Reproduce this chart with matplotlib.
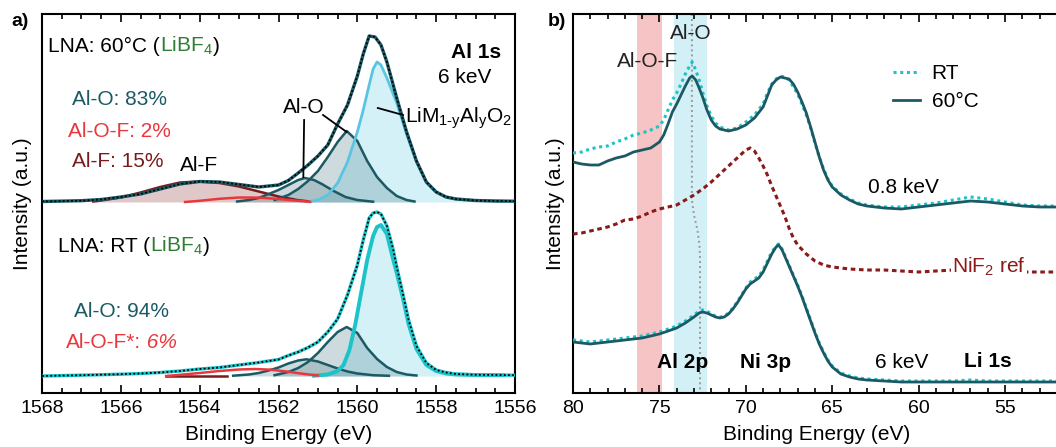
import numpy as np
import matplotlib
matplotlib.use("Agg")
import matplotlib.pyplot as plt
import matplotlib.transforms as mtransforms
from matplotlib.ticker import MultipleLocator

plt.rcParams['font.family'] = ['Liberation Sans', 'DejaVu Sans']
plt.rcParams['mathtext.fontset'] = 'custom'
plt.rcParams['mathtext.rm'] = 'Liberation Sans'
plt.rcParams['mathtext.it'] = 'Liberation Sans:italic'
plt.rcParams['mathtext.bf'] = 'Liberation Sans:bold'

# ---------------- Panel a: Al 1s (6 keV) ----------------
# 60 °C sample: measured envelope / fit
E_env_60 = [1568.0, 1567.0, 1566.5, 1566.0, 1565.5, 1565.0, 1564.5, 1564.0, 1563.5, 1563.0,
            1562.5, 1562.0, 1561.75, 1561.5, 1561.25, 1561.0, 1560.75, 1560.5, 1560.25, 1560.0,
            1559.85, 1559.7, 1559.55, 1559.4, 1559.25, 1559.0, 1558.75, 1558.5, 1558.25, 1558.0,
            1557.75, 1557.5, 1557.0, 1556.5, 1556.0]
I_env_60 = [0.5, 1.3, 2.5, 5, 8, 13, 18, 20.5, 20, 17.5,
            15, 17, 21.5, 29, 37, 46, 57, 78, 97, 126,
            148, 166, 165, 157, 140, 104, 70, 41, 20, 10,
            5, 3, 1.5, 1, 0.8]
E_lim_60 = [1561.2, 1561.0, 1560.75, 1560.5, 1560.25, 1560.0, 1559.85, 1559.7, 1559.6, 1559.5,
            1559.4, 1559.25, 1559.0, 1558.75, 1558.5, 1558.25, 1558.0, 1557.75, 1557.5, 1557.0, 1556.3]
I_lim_60 = [0.5, 2, 7, 19, 40, 70, 92, 117, 133, 140,
            137, 124, 99, 68, 40, 20, 10, 5, 3, 1.5, 0.8]
E_alo1_60 = [1562.1, 1561.75, 1561.5, 1561.25, 1561.0, 1560.75, 1560.5, 1560.27, 1560.0, 1559.75,
             1559.5, 1559.25, 1559.0, 1558.75, 1558.55]
I_alo1_60 = [2, 7, 13, 21, 31, 45, 60, 71, 61, 41, 25, 14, 6, 2, 0.5]
E_alo2_60 = [1563.05, 1562.75, 1562.5, 1562.25, 1562.0, 1561.75, 1561.5, 1561.33, 1561.1, 1560.9,
             1560.6, 1560.3, 1560.0, 1559.6]
I_alo2_60 = [0.5, 2, 4, 8, 12, 17, 22, 24, 22, 18, 11, 5, 2, 0.3]
E_alf_60 = [1566.7, 1566.5, 1566.0, 1565.5, 1565.0, 1564.5, 1564.05, 1563.5, 1563.0, 1562.5,
            1562.0, 1561.5, 1561.2]
I_alf_60 = [0.5, 1.5, 4.5, 9.5, 15, 19.5, 20.5, 19, 15.5, 10.5, 5.5, 1.8, 0.5]
E_alof_60 = [1564.37, 1564.0, 1563.5, 1563.0, 1562.5, 1562.0, 1561.5, 1561.2]
I_alof_60 = [0, 1.2, 3.2, 4.5, 4.4, 3, 1.2, 0.2]

# RT sample
E_env_rt = [1568.0, 1567.0, 1566.0, 1565.5, 1565.0, 1564.5, 1564.0, 1563.5, 1563.0, 1562.5,
            1562.0, 1561.75, 1561.5, 1561.25, 1561.0, 1560.75, 1560.5, 1560.25, 1560.0, 1559.85,
            1559.7, 1559.6, 1559.5, 1559.4, 1559.25, 1559.1, 1559.0, 1558.85, 1558.7, 1558.5,
            1558.25, 1558.0, 1557.75, 1557.5, 1557.0, 1556.5, 1556.0]
I_env_rt = [0, 0.8, 1.8, 2.5, 3.5, 5, 7, 8.5, 11, 13.5,
            16.5, 20.5, 24, 28.5, 34, 44, 57, 81, 111, 136,
            158, 163, 164, 162, 150, 128, 109, 83, 56, 30,
            13, 6, 3.5, 2, 1.2, 1, 0.8]
E_lim_rt = [1561.1, 1560.75, 1560.5, 1560.35, 1560.2, 1560.05, 1559.9, 1559.75, 1559.6, 1559.5,
            1559.4, 1559.25, 1559.1, 1559.0, 1558.85, 1558.7, 1558.5, 1558.25, 1558.0, 1557.75,
            1557.5, 1557.0, 1556.3]
I_lim_rt = [0.3, 1.5, 5, 11, 26, 52, 84, 116, 140, 149,
            151, 142, 118, 103, 79, 52, 27, 11, 5, 2.5,
            1.5, 1, 0.8]
E_alo1_rt = [1562.1, 1561.75, 1561.5, 1561.25, 1561.0, 1560.75, 1560.5, 1560.27, 1560.0, 1559.75,
             1559.5, 1559.25, 1559.0, 1558.75, 1558.5]
I_alo1_rt = [0.8, 4, 8, 14, 23, 34, 44, 49, 43, 28, 17, 9, 4, 1.5, 0.5]
E_alo2_rt = [1563.15, 1562.75, 1562.5, 1562.25, 1562.0, 1561.75, 1561.5, 1561.29, 1561.0, 1560.75,
             1560.5, 1560.25, 1560.0, 1559.6, 1559.2]
I_alo2_rt = [0.3, 1.5, 3, 5.5, 8.5, 12.5, 15.5, 16.7, 14.5, 11, 7.5, 4.5, 2.5, 0.8, 0.2]
E_alf_rt = [1564.85, 1563.3]
I_alf_rt = [0, 0]
E_alof_rt = [1564.85, 1564.5, 1564.0, 1563.5, 1563.0, 1562.6, 1562.2, 1561.8, 1561.4, 1561.0]
I_alof_rt = [0, 1.2, 3, 5, 6.5, 7, 6.3, 4.5, 2.3, 0.5]

# ---------------- Panel b: Al 2p / Ni 3p ----------------
E_b08 = [80, 79.5, 79, 78.5, 78, 77.5, 77, 76.5, 76, 75.5, 75, 74.75, 74.5, 74.25, 74, 73.75, 73.5,
         73.25, 73.1, 72.9, 72.7, 72.5, 72.25, 72, 71.75, 71.5, 71, 70.5, 70, 69.5, 69, 68.75, 68.5,
         68.25, 68, 67.75, 67.5, 67.25, 67, 66.75, 66.5, 66.25, 66, 65.75, 65.5, 65.25, 65, 64.5, 64,
         63.5, 63, 62, 61, 60, 59, 58, 57, 56, 55, 54, 53, 52]
I_08_60 = [231, 229, 228, 228, 232, 235, 237, 241, 243, 245, 251, 258, 269, 281, 289, 298, 307,
           315, 317, 313, 305, 296, 283, 273, 267, 264, 262, 264, 268, 275, 286, 297, 308,
           313, 316, 315, 314, 309, 301, 291, 280, 266, 251, 236, 223, 213, 206, 198, 193,
           189, 187, 185, 184, 186, 188, 190, 192, 191, 189, 187, 186, 186]
I_08_rt = [240, 241, 244, 246, 247, 251, 254, 258, 260, 263, 267, 273, 283, 293, 300, 309, 319,
           327, 331, 323, 313, 301, 287, 277, 270, 266, 263, 265, 271, 278, 289, 300, 309,
           314, 317, 316, 313, 306, 299, 289, 278, 265, 250, 236, 224, 214, 207, 199, 194,
           190, 188, 186, 186, 188, 190, 193, 196, 194, 191, 188, 187, 187]

E_nif2 = [80, 79.5, 79, 78.5, 78, 77.5, 77, 76.5, 76, 75.5, 75, 74.5, 74, 73.5, 73, 72.5, 72,
          71.5, 71, 70.5, 70, 69.75, 69.5, 69.25, 69, 68.75, 68.5, 68.25, 68, 67.75, 67.5, 67.25,
          67, 66.5, 66, 65.5, 65, 64, 63, 62, 61, 60, 59, 58, 57, 56, 55, 54, 53, 52]
I_nif2 = [159, 160, 162, 164, 166, 169, 173, 174, 177, 181, 184, 186, 188, 193, 198, 204, 211,
          219, 227, 235, 243, 245, 242, 235, 227, 218, 207, 197, 187, 177, 165, 155,
          148, 139, 132, 128, 126, 124, 123, 123, 122, 121, 122, 123, 122, 121, 121, 121, 121, 121]

E_b6 = [80, 79.5, 79, 78.5, 78, 77.5, 77, 76.5, 76, 75.5, 75, 74.5, 74, 73.5, 73, 72.7, 72.5,
        72.25, 72, 71.75, 71.5, 71.25, 71, 70.75, 70.5, 70.25, 70, 69.75, 69.5, 69.25, 69, 68.75,
        68.5, 68.25, 68.1, 67.9, 67.75, 67.5, 67.25, 67, 66.75, 66.5, 66.25, 66, 65.75, 65.5,
        65.25, 65, 64.5, 64, 63.5, 63, 62, 61, 60, 59, 58, 57, 56, 55, 54, 53, 52]
I_6_60 = [51, 50, 49, 50, 51, 52, 53, 54, 55, 57, 59, 62, 65, 70, 76, 80, 81,
          80, 78, 76, 75, 76, 79, 84, 90, 97, 104, 109, 112, 115, 121, 130,
          139, 146, 148, 143, 137, 127, 117, 107, 96, 84, 72, 60, 49, 40,
          32, 26, 19, 16, 14, 13, 12, 11, 11, 11, 11, 11, 11, 11, 11, 11, 11]
I_6_rt = [53, 52, 51, 52, 53, 54, 55, 56, 57, 59, 61, 64, 67, 72, 78, 82, 83,
          82, 79, 77, 76, 77, 80, 85, 91, 98, 105, 111, 114, 117, 123, 132,
          141, 147, 149, 144, 138, 128, 118, 108, 97, 85, 73, 61, 50, 41,
          33, 27, 20, 17, 15, 14, 13, 12, 12, 12, 12, 13, 12, 12, 12, 12, 12]

band_alof = (76.3, 74.85)
band_alo = (74.15, 72.23)
guide_E = [73.12, 73.12, 73.0, 72.8, 72.68, 72.65, 72.65]
guide_I = [379, 193, 178, 163, 148, 133, 0]

# ---------------- colours ----------------
TEAL = '#1b5a64'
CYAN = '#1cc3c8'
SKY = '#5ac5e2'
LIGHTBLUE = '#d4f1f8'
DARKRED = '#7a1b1b'
RED = '#e8383d'
GREEN = '#2e7d32'

fig = plt.figure(figsize=(10.56, 4.47), dpi=100)
axa = fig.add_axes([42/1056, 54/447, (515-42)/1056, (393-14)/447])
axb = fig.add_axes([573/1056, 54/447, (1060-573)/1056, (393-14)/447])

FS = 15
TFS = 14


def rich_text(ax, x, y, pieces, size=FS, transform=None):
    renderer = fig.canvas.get_renderer()
    base = transform if transform is not None else ax.transData
    dx = 0.0
    for s, color, kw in pieces:
        tr = mtransforms.offset_copy(base, fig=fig, x=dx, y=0, units='dots')
        t = ax.text(x, y, s, color=color, transform=tr, fontsize=size,
                    va='baseline', ha='left', **kw)
        dx += t.get_window_extent(renderer).width


def draw_spectrum(ax, off, env_color, Ee, Ie, El, Il, lim_color, lim_lw,
                  Eo1, Io1, Eo2, Io2, Ef, If, Eof, Iof, alf_fill=True):
    El = np.asarray(El); Il = np.asarray(Il) + off
    ax.fill_between(El, Il, off, color=LIGHTBLUE, lw=0, zorder=1)
    for Ex, Ix in ((Eo2, Io2), (Eo1, Io1)):
        Ex = np.asarray(Ex); Ix = np.asarray(Ix) + off
        ax.fill_between(Ex, Ix, off, color='#52808a', alpha=0.28, lw=0, zorder=2)
    Ef = np.asarray(Ef); If = np.asarray(If) + off
    if alf_fill:
        ax.fill_between(Ef, If, off, color='#a45a5a', alpha=0.33, lw=0, zorder=2)
    ax.plot(Ef, If, color=DARKRED, lw=1.8, zorder=4)
    ax.plot(Eo2, np.asarray(Io2) + off, color=TEAL, lw=1.8, zorder=4)
    ax.plot(Eo1, np.asarray(Io1) + off, color=TEAL, lw=1.8, zorder=4)
    ax.plot(Eof, np.asarray(Iof) + off, color=RED, lw=1.8, zorder=5)
    ax.plot(El, Il, color=lim_color, lw=lim_lw, zorder=4)
    ax.plot(Ee, np.asarray(Ie) + off, color=env_color, lw=2.4, zorder=6)
    ax.plot(Ee, np.asarray(Ie) + off, color='black', lw=1.3, ls=(0, (1, 1.3)), zorder=7)


OFF_TOP = 174
draw_spectrum(axa, OFF_TOP, TEAL, E_env_60, I_env_60, E_lim_60, I_lim_60, SKY, 2.0,
              E_alo1_60, I_alo1_60, E_alo2_60, I_alo2_60, E_alf_60, I_alf_60,
              E_alof_60, I_alof_60)
draw_spectrum(axa, 0, CYAN, E_env_rt, I_env_rt, E_lim_rt, I_lim_rt, CYAN, 2.8,
              E_alo1_rt, I_alo1_rt, E_alo2_rt, I_alo2_rt, E_alf_rt, I_alf_rt,
              E_alof_rt, I_alof_rt, alf_fill=False)

axa.set_xlim(1568, 1556)
axa.set_ylim(-17, 362)
axa.set_yticks([])
axa.xaxis.set_major_locator(MultipleLocator(2))
axa.xaxis.set_minor_locator(MultipleLocator(0.5))
axa.set_xlabel('Binding Energy (eV)', fontsize=FS, labelpad=6)
axa.set_ylabel('Intensity (a.u.)', fontsize=FS, labelpad=7)

# annotations panel a
axa.plot([1561.35, 1561.37], [256, 199], color='black', lw=1.3, zorder=8)
axa.plot([1560.87, 1560.27], [261, 244], color='black', lw=1.3, zorder=8)
axa.plot([1559.48, 1558.84], [268, 261], color='black', lw=1.3, zorder=8)
axa.text(1561.89, 263, 'Al-O', fontsize=FS, va='baseline', ha='left', zorder=9)
axa.text(1564.5, 205, 'Al-F', fontsize=FS, va='baseline', ha='left', zorder=9)
axa.text(1558.79, 253, r'LiM$_{\mathregular{1\text{-}y}}$Al$_{\mathregular{y}}$O$_2$', fontsize=FS,
         va='baseline', ha='left', zorder=9)
axa.text(1557.0, 318, 'Al 1s', fontsize=FS, fontweight='bold', va='baseline', ha='center')
axa.text(1557.27, 293, '6 keV', fontsize=FS, va='baseline', ha='center')

rich_text(axa, 1567.85, 324, [('LNA: 60°C (', 'black', {}), (r'LiBF$_4$', GREEN, {}),
                              (')', 'black', {})])
axa.text(1567.24, 271, 'Al-O: 83%', color=TEAL, fontsize=FS, va='baseline')
axa.text(1567.34, 239, 'Al-O-F: 2%', color=RED, fontsize=FS, va='baseline')
axa.text(1567.24, 209, 'Al-F: 15%', color=DARKRED, fontsize=FS, va='baseline')

rich_text(axa, 1567.59, 124, [('LNA: RT (', 'black', {}), (r'LiBF$_4$', GREEN, {}),
                              (')', 'black', {})])
axa.text(1567.2, 59, 'Al-O: 94%', color=TEAL, fontsize=FS, va='baseline')
rich_text(axa, 1567.4, 28, [('Al-O-F*:', RED, {}), (' 6%', RED, {'fontstyle': 'italic'})])

# ---------------- Panel b ----------------
axb.axvspan(*band_alof, color='#f6c4c4', lw=0, zorder=0)
axb.axvspan(*band_alo, color='#d3f0f7', lw=0, zorder=0)
axb.plot(guide_E, guide_I, color='#9a9a9a', lw=1.4, ls=(0, (1, 1.6)), zorder=1)

axb.plot(E_b08, I_08_rt, color=CYAN, lw=2.2, ls=(0, (1, 1.2)), zorder=3, label='RT')
axb.plot(E_b08, I_08_60, color=TEAL, lw=2.0, zorder=4, label='60°C')
axb.plot(E_nif2, I_nif2, color='#8b1a1a', lw=2.2, ls=(0, (1.5, 1.2)), zorder=3)
axb.plot(E_b6, I_6_rt, color=CYAN, lw=2.2, ls=(0, (1, 1.2)), zorder=3)
axb.plot(E_b6, I_6_60, color=TEAL, lw=2.0, zorder=4)

axb.set_xlim(80, 51.82)
axb.set_ylim(0, 379)
axb.set_yticks([])
axb.xaxis.set_major_locator(MultipleLocator(5))
axb.xaxis.set_minor_locator(MultipleLocator(1))
axb.set_xlabel('Binding Energy (eV)', fontsize=FS, labelpad=6)
axb.set_ylabel('Intensity (a.u.)', fontsize=FS, labelpad=6)
axb.spines['right'].set_visible(False)

axb.text(73.18, 354, 'Al-O', fontsize=FS, ha='center', va='baseline', color='#222222')
axb.text(75.66, 326, 'Al-O-F', fontsize=FS, ha='center', va='baseline', color='#222222')
axb.text(60.9, 200, '0.8 keV', fontsize=FS, ha='center', va='baseline')
axb.text(58.07, 120, r'NiF$_2$ ref', fontsize=FS, ha='left', va='baseline', color='#8b1a1a',
         zorder=6, bbox=dict(facecolor='white', edgecolor='none', pad=1))
axb.text(73.63, 25, 'Al 2p', fontsize=FS, fontweight='bold', ha='center', va='baseline')
axb.text(68.83, 25, 'Ni 3p', fontsize=FS, fontweight='bold', ha='center', va='baseline')
axb.text(60.96, 25, '6 keV', fontsize=FS, ha='center', va='baseline')
axb.text(55.98, 26, 'Li 1s', fontsize=FS, fontweight='bold', ha='center', va='baseline')

axb.legend(loc='upper left', bbox_to_anchor=(0.657, 0.868), frameon=False, fontsize=FS,
           borderpad=0, borderaxespad=0, handlelength=1.3, handletextpad=0.55,
           labelspacing=0.45)

for ax in (axa, axb):
    ax.tick_params(axis='x', which='both', direction='in', top=True, labelsize=TFS, pad=5)
    ax.tick_params(axis='x', which='major', length=6, width=1.2)
    ax.tick_params(axis='x', which='minor', length=3.5, width=1.2)
    for sp in ax.spines.values():
        sp.set_linewidth(1.5)

fig.text(20/1056, 1 - 22/447, 'a)', fontsize=14, fontweight='bold', ha='center', va='center')
fig.text(557/1056, 1 - 22/447, 'b)', fontsize=14, fontweight='bold', ha='center', va='center')

fig.savefig('out.png', dpi=100)
